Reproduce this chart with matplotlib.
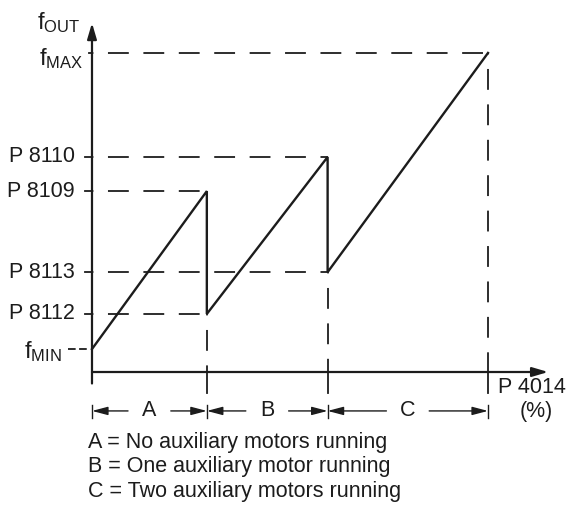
import matplotlib
matplotlib.use("Agg")
import matplotlib.pyplot as plt

plt.rcParams["font.family"] = ["Liberation Sans", "DejaVu Sans"]
plt.rcParams["mathtext.fontset"] = "custom"
plt.rcParams["mathtext.rm"] = "Liberation Sans"
plt.rcParams["mathtext.it"] = "Liberation Sans"
plt.rcParams["lines.scale_dashes"] = False

# Stage boundaries along the P 4014 axis (%)
stage_x = [0, 29, 59.5, 100]
stage_names = ["A", "B", "C"]
stage_desc = [
    "A = No auxiliary motors running",
    "B = One auxiliary motor running",
    "C = Two auxiliary motors running",
]

# Output frequency levels (relative, f_MAX = 100)
f_min = 7.2
p8112 = 18.2
p8113 = 31.3
p8109 = 56.7
p8110 = 67.4
f_max = 100.0

level_names = [r"$\mathrm{f}_{\mathrm{MAX}}$", "P 8110", "P 8109", "P 8113", "P 8112",
               r"$\mathrm{f}_{\mathrm{MIN}}$"]
level_values = [f_max, p8110, p8109, p8113, p8112, f_min]
level_ends = [stage_x[3], stage_x[2], stage_x[1], stage_x[2], stage_x[1], None]

# Sawtooth of output frequency vs. controller output
saw_x = [stage_x[0], stage_x[1], stage_x[1], stage_x[2], stage_x[2], stage_x[3]]
saw_y = [f_min, p8109, p8112, p8110, p8113, f_max]

INK = "#1c1c1c"
FS = 15.5
FS_F = 17.0

fig = plt.figure(figsize=(5.71, 5.21), dpi=100)
ax = fig.add_axes([0, 0, 1, 1])
ax.set_xlim(-23.23, 120.96)
ax.set_ylim(-46.7, 116.6)
ax.axis("off")

dash_h = (14.0, (15.0, 10.5))

# Axes with arrowheads
head = "-|>,head_length=0.95,head_width=0.28"
ax.annotate("", xy=(0, 109.4), xytext=(0, -3.6),
            arrowprops=dict(arrowstyle=head, color=INK, lw=1.6,
                            shrinkA=0, shrinkB=0, mutation_scale=10))
ax.annotate("", xy=(115.2, 0), xytext=(0, 0),
            arrowprops=dict(arrowstyle=head, color=INK, lw=1.6,
                            shrinkA=0, shrinkB=0, mutation_scale=10))

# Level guide lines and labels
for name, val, xend in zip(level_names, level_values, level_ends):
    if xend is None:
        ax.plot([-6.0, -1.2], [val, val], color=INK, lw=1.3,
                linestyle=(0, (5.5, 2.5)), solid_capstyle="butt")
        ax.text(-7.6, val - 0.8, name, ha="right", va="center", fontsize=FS_F, color=INK)
        continue
    tick_len = 0.8 if name.startswith("$") else 1.8
    ax.plot([-tick_len, 0], [val, val], color=INK, lw=1.3)
    ax.plot([0, xend], [val, val], color=INK, lw=1.3, linestyle=dash_h)
    if name.startswith("$"):
        ax.text(-2.3, val - 1.6, name, ha="right", va="center", fontsize=FS_F, color=INK)
    else:
        ax.text(-4.3, val, name, ha="right", va="center", fontsize=FS, color=INK)

# y-axis title
ax.text(-3.0, 109.4, r"$\mathrm{f}_{\mathrm{OUT}}$", ha="right", va="center",
        fontsize=FS_F, color=INK)

# Vertical guides at stage boundaries
for xb, ytop in zip(stage_x[1:], [p8112, p8113, f_max]):
    ax.plot([xb, xb], [ytop, 0], color=INK, lw=1.3, linestyle=dash_h)
    ax.plot([xb, xb], [0, -6.5], color=INK, lw=1.3)

# Sawtooth
ax.plot(saw_x, saw_y, color=INK, lw=1.7, solid_joinstyle="miter")

# Stage dimension arrows
row_y = -12.2
half_gap = 5.4
for name, x0, x1 in zip(stage_names, stage_x[:-1], stage_x[1:]):
    xc = (x0 + x1) / 2
    ax.text(xc, row_y, name, ha="center", va="center", fontsize=FS, color=INK)
    for tail, tip in ((xc - half_gap, x0), (xc + half_gap, x1)):
        ax.annotate("", xy=(tip, row_y), xytext=(tail, row_y),
                    arrowprops=dict(arrowstyle="-|>,head_length=0.95,head_width=0.25",
                                    color=INK, lw=1.0, shrinkA=0, shrinkB=0,
                                    mutation_scale=10))
for xb in stage_x:
    ax.plot([xb, xb], [row_y + 2.0, row_y - 2.3], color=INK, lw=1.0)

# x-axis title
ax.text(102.5, -4.7, "P 4014", ha="left", va="center", fontsize=FS, color=INK)
ax.text(112.1, -12.5, "(%)", ha="center", va="center", fontsize=FS, color=INK)

# Stage descriptions
for i, desc in enumerate(stage_desc):
    ax.text(-1.0, -22.0 - 7.7 * i, desc, ha="left", va="center", fontsize=FS, color=INK)

fig.savefig("out.png", dpi=100, facecolor="white")
